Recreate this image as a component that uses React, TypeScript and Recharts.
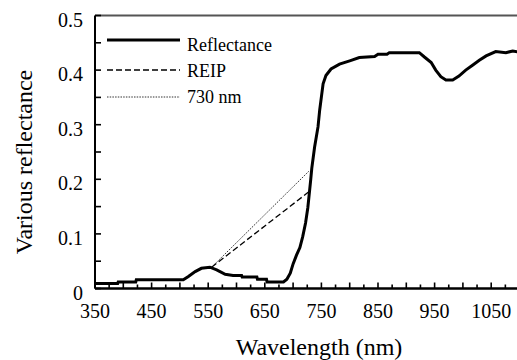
import React from "react";
import { LineChart, Line, XAxis, YAxis, ReferenceLine, Legend, Customized } from "recharts";

// Reflectance spectrum (wavelength nm, reflectance)
const wavelengths = [
  350, 390, 391, 422, 423, 506, 515, 527, 538, 553, 565, 580, 594, 609, 610, 636, 637, 653, 654, 683,
  689, 695, 700, 706, 712, 717, 722, 726, 729, 731, 733, 738, 744, 747, 750, 753, 758, 767, 782, 800,
  817, 844, 850, 866, 870, 923, 932, 944, 952, 961, 970, 982, 993, 1005, 1017, 1029, 1041, 1058, 1076, 1088, 1100,
];
const reflectance = [
  0.009, 0.009, 0.012, 0.012, 0.016, 0.016, 0.022, 0.031, 0.037, 0.039, 0.034, 0.026, 0.024, 0.024, 0.021, 0.021, 0.017, 0.017, 0.012, 0.012,
  0.017, 0.028, 0.045, 0.061, 0.075, 0.095, 0.12, 0.148, 0.178, 0.198, 0.22, 0.259, 0.296, 0.327, 0.351, 0.375, 0.39, 0.402, 0.411, 0.417,
  0.423, 0.425, 0.429, 0.429, 0.432, 0.432, 0.424, 0.414, 0.4, 0.388, 0.382, 0.382, 0.389, 0.4, 0.409, 0.418, 0.426, 0.434, 0.432, 0.435, 0.433,
];
// REIP tangent line
const reipNm = [556, 729];
const reipVal = [0.039, 0.178];
// 730 nm line
const line730Nm = [556, 729];
const line730Val = [0.039, 0.216];

const xTicks = [
  350, 375, 400, 425, 450, 475, 500, 525, 550, 575, 600, 625, 650, 675, 700, 725, 750, 775, 800, 825,
  850, 875, 900, 925, 950, 975, 1000, 1025, 1050, 1075, 1100,
];
const xLabels = [350, 450, 550, 650, 750, 850, 950, 1050];
const yTicks = [0, 0.05, 0.1, 0.15, 0.2, 0.25, 0.3, 0.35, 0.4, 0.45, 0.5];
const yLabels = ["0", "0.1", "0.2", "0.3", "0.4", "0.5"];

const seriesNames = ["Reflectance", "REIP", "730 nm"];

const mainData = wavelengths.map((nm, i) => ({ nm, v: reflectance[i] }));
const reipData = reipNm.map((nm, i) => ({ nm, v: reipVal[i] }));
const l730Data = line730Nm.map((nm, i) => ({ nm, v: line730Val[i] }));

const FONT = "Liberation Serif";
const X_MARGIN = 15.5;
const Y_MARGIN = 12;

const XTick = (props: any) => {
  const { x, y, payload } = props;
  const v = payload.value as number;
  const axisY = y - X_MARGIN;
  const major = v % 50 === 0;
  const showLabel = xLabels.includes(v);
  return (
    <g>
      <line x1={x} x2={x} y1={axisY} y2={axisY - (major ? 6 : 4)} stroke="#000" strokeWidth={1.6} />
      {showLabel && (
        <text x={x} y={y} dy="0.71em" textAnchor="middle" fontFamily={FONT} fontSize={20} fill="#000">
          {String(v)}
        </text>
      )}
    </g>
  );
};

const YTick = (props: any) => {
  const { x, y, payload } = props;
  const v = payload.value as number;
  const idx = Math.round(v * 10);
  const showLabel = Math.abs(v * 10 - idx) < 1e-6;
  const axisX = x + Y_MARGIN;
  return (
    <g>
      <line x1={axisX} x2={axisX + 6} y1={y} y2={y} stroke="#000" strokeWidth={1.6} />
      {showLabel && (
        <text x={x} y={y + 4} dy="0.355em" textAnchor="end" fontFamily={FONT} fontSize={20} fill="#000">
          {yLabels[idx]}
        </text>
      )}
    </g>
  );
};

const Titles = () => (
  <g>
    <text x={319} y={355} textAnchor="middle" fontFamily={FONT} fontSize={24} fill="#000">
      Wavelength (nm)
    </text>
    <text
      x={0}
      y={0}
      transform="translate(32,162) rotate(-90)"
      textAnchor="middle"
      fontFamily={FONT}
      fontSize={24}
      fill="#000"
    >
      Various reflectance
    </text>
  </g>
);

const legendStyles = [
  { dash: undefined, width: 3, color: "#000" },
  { dash: "6 3", width: 1.3, color: "#000" },
  { dash: "1.5 1.2", width: 1, color: "#333" },
];

const LegendContent = () => (
  <svg width={200} height={80} style={{ display: "block" }}>
    {seriesNames.map((name, i) => {
      const ly = [12, 42, 69][i];
      const ty = [17, 43, 69][i];
      const s = legendStyles[i];
      return (
        <g key={name}>
          <line x1={0} x2={73} y1={ly} y2={ly} stroke={s.color} strokeWidth={s.width} strokeDasharray={s.dash} />
          <text x={80} y={ty} dy="0.355em" fontFamily={FONT} fontSize={18} fill="#000">
            {name}
          </text>
        </g>
      );
    })}
  </svg>
);

export default function App() {
  return (
    <div style={{ position: "absolute", left: 0, top: 0, width: 517, height: 360, overflow: "hidden", background: "#fff" }}>
      <LineChart width={530} height={360} margin={{ top: 15.5, right: 10.5, left: 0, bottom: 0 }}>
        <XAxis
          type="number"
          dataKey="nm"
          domain={[350, 1100]}
          ticks={xTicks}
          interval={0}
          allowDataOverflow
          height={71.5}
          tickSize={0}
          tickMargin={X_MARGIN}
          tickLine={false}
          tick={<XTick />}
          axisLine={{ stroke: "#000", strokeWidth: 2.5 }}
        />
        <YAxis
          type="number"
          domain={[0, 0.5]}
          ticks={yTicks}
          interval={0}
          width={95}
          tickSize={0}
          tickMargin={Y_MARGIN}
          tickLine={false}
          tick={<YTick />}
          axisLine={{ stroke: "#000", strokeWidth: 2 }}
        />
        <ReferenceLine y={0.5} stroke="#555" strokeWidth={2} />
        <Line data={l730Data} dataKey="v" name={seriesNames[2]} type="linear" stroke="#333" strokeWidth={1} strokeDasharray="1.5 1.2" dot={false} isAnimationActive={false} />
        <Line data={reipData} dataKey="v" name={seriesNames[1]} type="linear" stroke="#000" strokeWidth={1.3} strokeDasharray="6 3" dot={false} isAnimationActive={false} />
        <Line data={mainData} dataKey="v" name={seriesNames[0]} type="linear" stroke="#000" strokeWidth={3} dot={false} isAnimationActive={false} />
        <Legend
          layout="horizontal"
          verticalAlign="middle"
          align="center"
          content={<LegendContent />}
          wrapperStyle={{ position: "absolute", left: 107, top: 28, width: 200, height: 80 }}
        />
        <Customized component={Titles} />
      </LineChart>
    </div>
  );
}
